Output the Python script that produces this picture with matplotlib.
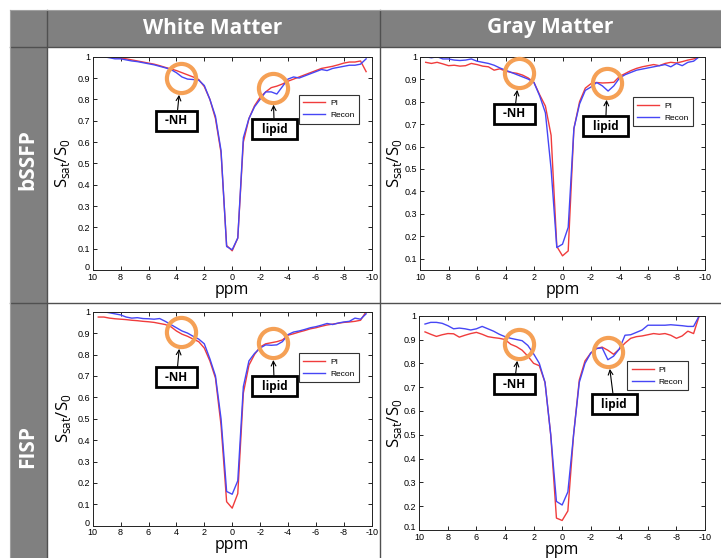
import matplotlib
matplotlib.use('Agg')
import matplotlib.pyplot as plt
from matplotlib.patches import Rectangle
from matplotlib.transforms import ScaledTranslation


# frequency offsets (ppm), shared by all four panels
ppm = [9.6, 9.2, 8.8, 8.4, 8.0, 7.6, 7.2,
       6.8, 6.4, 6.0, 5.6, 5.2, 4.8, 4.4,
       4.0, 3.6, 3.2, 2.8, 2.4, 2.0, 1.6,
       1.2, 0.8, 0.4, 0.0, -0.4, -0.8, -1.2,
       -1.6, -2.0, -2.4, -2.8, -3.2, -3.6, -4.0,
       -4.4, -4.8, -5.2, -5.6, -6.0, -6.4, -6.8,
       -7.2, -7.6, -8.0, -8.4, -8.8, -9.2, -9.6]

# white matter, bSSFP
wm_bssfp_pi = [1.0, 1.0, 0.998, 0.995, 0.993, 0.99, 0.985,
               0.98, 0.975, 0.97, 0.965, 0.958, 0.95, 0.943,
               0.935, 0.925, 0.915, 0.905, 0.893, 0.86, 0.80,
               0.71, 0.55, 0.115, 0.09, 0.15, 0.60, 0.71,
               0.77, 0.81, 0.835, 0.855, 0.862, 0.872, 0.885,
               0.895, 0.905, 0.915, 0.925, 0.935, 0.945, 0.95,
               0.955, 0.962, 0.97, 0.975, 0.975, 0.98, 0.93]
wm_bssfp_recon = [1.0, 1.0, 0.995, 0.99, 0.99, 0.985, 0.98,
                  0.977, 0.972, 0.967, 0.962, 0.955, 0.948, 0.94,
                  0.925, 0.905, 0.895, 0.893, 0.89, 0.865, 0.80,
                  0.72, 0.56, 0.11, 0.095, 0.15, 0.62, 0.71,
                  0.765, 0.80, 0.835, 0.835, 0.825, 0.86, 0.895,
                  0.905, 0.90, 0.91, 0.92, 0.93, 0.94, 0.935,
                  0.945, 0.95, 0.955, 0.96, 0.96, 0.965, 0.99]

# gray matter, bSSFP
gm_bssfp_pi = [0.975, 0.97, 0.975, 0.968, 0.96, 0.962, 0.958,
               0.96, 0.97, 0.965, 0.958, 0.955, 0.94, 0.946,
               0.936, 0.93, 0.926, 0.918, 0.905, 0.885, 0.83,
               0.78, 0.65, 0.155, 0.113, 0.135, 0.68, 0.80,
               0.86, 0.88, 0.885, 0.883, 0.884, 0.886, 0.912,
               0.925, 0.938, 0.948, 0.955, 0.96, 0.965, 0.96,
               0.97, 0.975, 0.972, 0.978, 0.985, 0.99, 1.0]
gm_bssfp_recon = [1.0, 0.995, 1.0, 0.99, 0.99, 0.985, 0.983,
                  0.985, 0.99, 0.98, 0.975, 0.97, 0.962, 0.95,
                  0.94, 0.93, 0.92, 0.91, 0.90, 0.885, 0.825,
                  0.75, 0.50, 0.15, 0.165, 0.24, 0.68, 0.79,
                  0.85, 0.865, 0.885, 0.87, 0.847, 0.87, 0.905,
                  0.92, 0.93, 0.94, 0.945, 0.95, 0.955, 0.96,
                  0.965, 0.955, 0.97, 0.96, 0.975, 0.98, 1.0]

# white matter, FISP
wm_fisp_pi = [0.975, 0.975, 0.97, 0.967, 0.965, 0.963, 0.96,
              0.958, 0.955, 0.953, 0.95, 0.945, 0.94, 0.93,
              0.91, 0.895, 0.885, 0.872, 0.86, 0.83, 0.77,
              0.69, 0.47, 0.112, 0.082, 0.15, 0.62, 0.75,
              0.80, 0.835, 0.85, 0.855, 0.86, 0.868, 0.89,
              0.897, 0.905, 0.912, 0.92, 0.925, 0.932, 0.938,
              0.942, 0.946, 0.95, 0.952, 0.955, 0.96, 1.0]
wm_fisp_recon = [1.0, 1.0, 0.995, 0.99, 0.985, 0.975, 0.97,
                 0.972, 0.968, 0.967, 0.965, 0.968, 0.955, 0.94,
                 0.925, 0.91, 0.90, 0.885, 0.872, 0.85, 0.78,
                 0.70, 0.50, 0.16, 0.147, 0.21, 0.65, 0.77,
                 0.805, 0.83, 0.845, 0.843, 0.845, 0.86, 0.893,
                 0.905, 0.91, 0.917, 0.925, 0.93, 0.937, 0.945,
                 0.94, 0.947, 0.952, 0.955, 0.97, 0.965, 0.99]

# gray matter, FISP
gm_fisp_pi = [0.932, 0.922, 0.913, 0.92, 0.925, 0.924, 0.91,
              0.918, 0.925, 0.93, 0.922, 0.912, 0.908, 0.905,
              0.90, 0.88, 0.87, 0.855, 0.83, 0.80, 0.79,
              0.72, 0.50, 0.15, 0.14, 0.18, 0.50, 0.73,
              0.81, 0.843, 0.862, 0.868, 0.855, 0.838, 0.86,
              0.885, 0.905, 0.912, 0.915, 0.92, 0.925, 0.922,
              0.925, 0.918, 0.905, 0.915, 0.935, 0.925, 1.0]
gm_fisp_recon = [0.965, 0.972, 0.972, 0.968, 0.958, 0.945, 0.948,
                 0.945, 0.94, 0.945, 0.955, 0.945, 0.935, 0.922,
                 0.912, 0.905, 0.90, 0.895, 0.875, 0.84, 0.80,
                 0.72, 0.50, 0.22, 0.205, 0.26, 0.50, 0.72,
                 0.80, 0.843, 0.862, 0.865, 0.815, 0.83, 0.86,
                 0.918, 0.92, 0.93, 0.94, 0.96, 0.96, 0.96,
                 0.96, 0.962, 0.96, 0.958, 0.955, 0.955, 1.0]

col_titles = ['White Matter', 'Gray Matter']
row_titles = ['bSSFP', 'FISP']
series_labels = ['PI', 'Recon']
x_ticks = [10, 8, 6, 4, 2, 0, -2, -4, -6, -8, -10]

W, H = 721, 558
fig = plt.figure(figsize=(W / 100, H / 100), dpi=100)

# table background (pixel coordinates)
bg = fig.add_axes([0, 0, 1, 1], zorder=0)
bg.set_xlim(0, W)
bg.set_ylim(H, 0)
bg.axis('off')
gray = '#808080'
bg.add_patch(Rectangle((10, 10), W - 10, 37, color=gray, lw=0))
bg.add_patch(Rectangle((10, 10), 37, H - 10, color=gray, lw=0))
line_c = '#505050'
bg.plot([10, W], [47, 47], color=line_c, lw=1)
bg.plot([10, W], [303, 303], color=line_c, lw=1)
bg.plot([47, 47], [10, H], color=line_c, lw=1)
bg.plot([380, 380], [10, H], color=line_c, lw=1)
bg.plot([10, W], [10, 10], color='#a0a0a0', lw=0.8)
bg.plot([10, 10], [10, H], color='#a0a0a0', lw=0.8)

head_kw = dict(color='white', fontsize=15, fontweight='bold', family='Open Sans',
               ha='center', va='center')
bg.text(213, 28, col_titles[0], **head_kw)
bg.text(550, 28, col_titles[1], **head_kw)
bg.text(28, 160, row_titles[0], rotation=90, **head_kw)
bg.text(28, 447, row_titles[1], rotation=90, **head_kw)

red = '#f03c3c'
blue = '#4646f5'
orange = '#f5a055'


def panel(box, pi, recon, ylo, ylab_x, xlab_dy, leg_anchor,
          nh_xy, nh_txt, lip_xy, lip_txt):
    l, t, r, b = box
    ax = fig.add_axes([l / W, 1 - b / H, (r - l) / W, (b - t) / H], zorder=2)
    ax.plot(ppm, pi, color=red, lw=1, label=series_labels[0])
    ax.plot(ppm, recon, color=blue, lw=1, label=series_labels[1])
    ax.set_xlim(10, -10)
    ax.set_ylim(ylo, 1)
    ax.set_xticks(x_ticks)
    ax.set_xticklabels([str(v) for v in x_ticks])
    yt = [round(v * 0.1, 1) for v in range(0, 11) if v * 0.1 >= ylo - 1e-9]
    ax.set_yticks(yt)
    ax.set_yticklabels(['0' if v == 0 else ('1' if v == 1 else str(v)) for v in yt])
    ax.tick_params(direction='in', top=True, right=True, length=3, width=0.6,
                   labelsize=6.5, pad=2)
    for lab in ax.get_xticklabels() + ax.get_yticklabels():
        lab.set_family('Liberation Sans')
    # bottom y label sitting right on the corner: nudge it up a little
    if abs(yt[0] - ylo) < 1e-9:
        first = ax.get_yticklabels()[0]
        first.set_transform(first.get_transform() +
                            ScaledTranslation(0, 2.5 / 72, fig.dpi_scale_trans))
    for s in ax.spines.values():
        s.set_linewidth(0.7)
        s.set_color('#222222')
    ax.set_xlabel('ppm', fontsize=11.5, family='Open Sans', va='center')
    ax.xaxis.set_label_coords(0.5, -xlab_dy / (b - t))
    ax.set_ylabel(r'S$_{\mathregular{sat}}$/S$_{\mathregular{0}}$', fontsize=12,
                  family='Open Sans', va='center')
    ax.yaxis.set_label_coords(ylab_x, 0.5)
    leg = ax.legend(loc='upper right', bbox_to_anchor=leg_anchor, fontsize=6,
                    fancybox=False, framealpha=1, edgecolor='#333333',
                    handlelength=2.6, borderpad=0.55, labelspacing=0.5,
                    handletextpad=0.6)
    leg.get_frame().set_linewidth(0.8)
    for txt in leg.get_texts():
        txt.set_family('Liberation Sans')

    for xy, txt_xy, name in [(nh_xy, nh_txt, '-NH'), (lip_xy, lip_txt, 'lipid')]:
        ax.plot([xy[0]], [xy[1]], marker='o', ms=21, mfc='none', mec=orange,
                mew=3, zorder=5, clip_on=False)
        ax.annotate('  ' + name + '  ', xy=xy, xytext=txt_xy, ha='center', va='center',
                    fontsize=8.5, fontweight='bold', family='Open Sans', zorder=6,
                    bbox=dict(boxstyle='square,pad=0.3', fc='white', ec='black', lw=2),
                    arrowprops=dict(arrowstyle='->', color='black', lw=0.8,
                                    shrinkA=0, shrinkB=12))
    return ax


panel((92.7, 56.7, 371.7, 270.0), wm_bssfp_pi, wm_bssfp_recon, 0.0,
      -0.11, 19.5, (0.969, 0.841),
      (3.69, 0.899), (3.99, 0.70), (-2.92, 0.853), (-3.02, 0.661))
panel((420.0, 56.7, 705.0, 270.0), gm_bssfp_pi, gm_bssfp_recon, 0.05,
      -0.091, 20.5, (0.972, 0.83),
      (3.03, 0.926), (3.38, 0.745), (-3.14, 0.882), (-3.02, 0.69))
panel((92.7, 311.7, 371.7, 525.7), wm_fisp_pi, wm_fisp_recon, 0.0,
      -0.103, 19.5, (0.969, 0.826),
      (3.69, 0.904), (3.99, 0.693), (-2.9, 0.852), (-3.02, 0.651))
panel((419.3, 315.7, 705.0, 530.0), gm_fisp_pi, gm_fisp_recon, 0.1,
      -0.0875, 19.5, (0.954, 0.807),
      (3.0, 0.88), (3.35, 0.712), (-3.19, 0.846), (-3.65, 0.628))

fig.savefig('out.png', dpi=100)
